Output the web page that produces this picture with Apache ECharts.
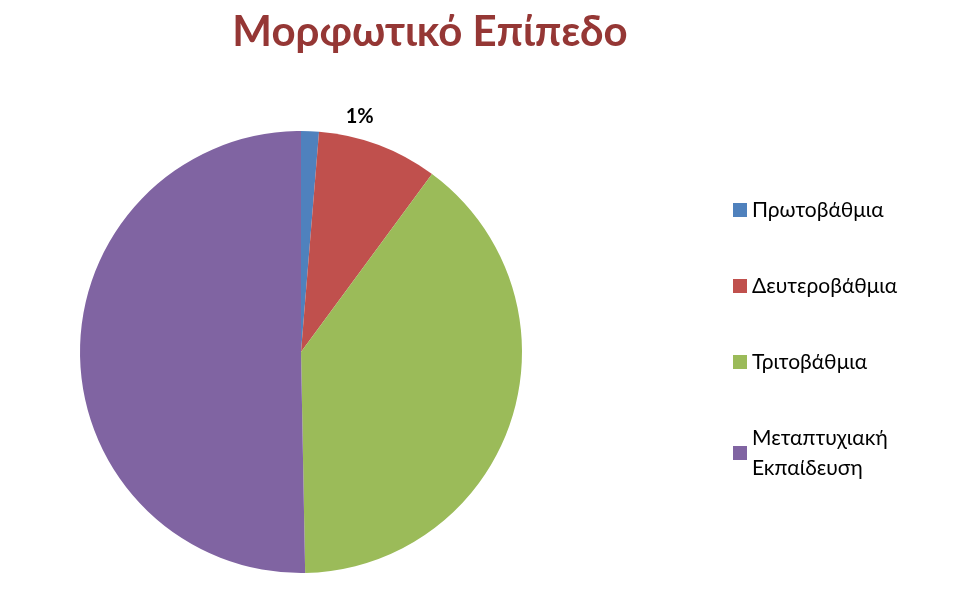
<!DOCTYPE html>
<html><head><meta charset="utf-8">
<script src="https://cdn.jsdelivr.net/npm/echarts@6/dist/echarts.min.js"></script>
<style>html,body{margin:0;padding:0;background:#fff}#c{width:969px;height:616px}</style>
</head><body><div id="c"></div>
<script>
const categories = ['Πρωτοβάθμια', 'Δευτεροβάθμια', 'Τριτοβάθμια', 'Μεταπτυχιακή\nΕκπαίδευση'];
const values = [1.3, 8.8, 39.6, 50.3];
const labels = ['1%', '9%', '40%', '50%'];
const colors = ['#4F81BD', '#C0504D', '#9BBB59', '#8064A2'];
const font = 'Lato, "Open Sans", sans-serif';
const chart = echarts.init(document.getElementById('c'));
const center = [301, 352], R = 221;
chart.setOption({
  animation: false,
  color: colors,
  title: { text: 'Μορφωτικό Επίπεδο', left: 425, top: 6, textAlign: 'center',
    textStyle: { color: '#953735', fontSize: 42, fontWeight: 'bold', fontFamily: font } },
  legend: { orient: 'vertical', left: 728, top: 190, itemGap: 46, itemWidth: 14, itemHeight: 14,
    icon: 'rect', textStyle: { fontSize: 21, fontFamily: font, color: '#000', lineHeight: 30 },
    data: categories },
  series: [
    { type: 'pie', center: center, radius: [0, R], startAngle: 90, clockwise: true,
      data: categories.map((n, i) => ({ name: n, value: values[i],
        label: i === 0 ? { show: true, position: 'outside', formatter: labels[i], distance: 12 } : { show: false },
        labelLine: { show: false } })),
      label: { fontSize: 20, fontWeight: 'bold', fontFamily: font, color: '#000' },
      itemStyle: { borderColor: '#fff', borderWidth: 0 } },
    { type: 'pie', center: center, radius: [R * 0.6, R], startAngle: 90, silent: true,
      legendHoverLink: false,
      data: categories.map((n, i) => ({ name: n + ' ', value: values[i],
        itemStyle: { opacity: 0 },
        label: { show: i > 0, formatter: labels[i] } })),
      label: { position: 'inside', fontSize: 20, fontWeight: 'bold', fontFamily: font, color: '#000' } }
  ]
});
</script></body></html>
